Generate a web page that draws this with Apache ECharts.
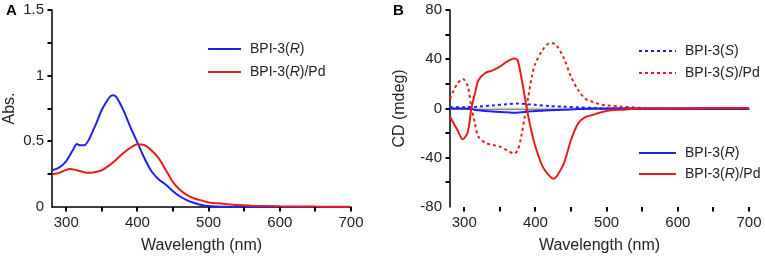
<!DOCTYPE html>
<html>
<head>
<meta charset="utf-8">
<script src="https://cdn.jsdelivr.net/npm/echarts@6/dist/echarts.min.js"></script>
<style>
  html, body { margin: 0; padding: 0; background: #fff; }
  #chart { width: 765px; height: 261px; }
</style>
</head>
<body>
<div id="chart"></div>
<script>
// wavelength (nm) / value pairs
var absR = [[280,0.28],[290,0.30],[300,0.35],[310,0.44],[315,0.48],[320,0.47],[325,0.47],[340,0.61],[350,0.74],[360,0.83],[365,0.85],[370,0.84],[380,0.74],[390,0.61],[400,0.49],[410,0.37],[420,0.27],[430,0.21],[440,0.17],[450,0.12],[460,0.08],[470,0.05],[480,0.03],[490,0.015],[500,0.007],[520,0.002],[560,0],[700,0]];
var absRPd = [[280,0.25],[290,0.26],[305,0.29],[315,0.28],[330,0.26],[340,0.265],[350,0.28],[360,0.315],[370,0.36],[380,0.41],[390,0.45],[400,0.477],[410,0.47],[420,0.43],[430,0.37],[440,0.28],[450,0.19],[460,0.13],[470,0.09],[480,0.065],[490,0.05],[500,0.035],[520,0.025],[540,0.015],[560,0.01],[600,0.005],[650,0.003],[700,0.002]];

var cdS = [[280,1],[300,1],[320,1.5],[340,2.5],[360,3.5],[375,4],[390,3.5],[400,3],[420,2],[440,1.5],[460,1],[480,0.5],[500,0],[700,0]];
var cdSPd = [[280,8],[290,20],[298,24],[305,18],[310,1],[315,-12],[320,-23],[330,-28],[340,-29.6],[350,-31],[360,-34],[370,-36.5],[375,-34],[380,-23],[385,-6.6],[390,9.6],[395,26],[400,36.7],[410,47.5],[420,53],[425,53],[430,51],[440,40.8],[450,25.8],[460,15],[470,8],[480,5.5],[490,3.5],[500,2.5],[520,1.5],[540,0.8],[560,0.3],[600,0],[650,0.5],[700,0.5]];
var cdR = [[280,0],[300,0],[310,-0.5],[320,-1.5],[340,-2.5],[360,-3],[370,-3.5],[380,-3],[390,-2.5],[400,-2],[420,-1.5],[440,-1],[460,-0.5],[480,0],[500,0],[700,0]];
var cdRPd = [[280,-6.7],[290,-17],[298,-25],[305,-19],[310,0],[315,12],[320,23],[330,29],[340,31],[350,34],[360,38],[370,40.7],[375,39],[380,26],[385,9.6],[390,-6.6],[395,-20],[400,-31],[410,-47],[420,-55],[425,-57],[430,-55],[440,-44.6],[450,-25.6],[460,-12],[470,-7],[480,-5.3],[490,-3.5],[500,-2],[520,-1],[550,0],[600,0],[650,0.5],[700,0.5]];

var xTicks = [300, 350, 400, 450, 500, 550, 600, 650, 700];
var xLabels = [300, 400, 500, 600, 700];
var absTicks = [0.25, 0.5, 0.75, 1, 1.25, 1.5];
var absLabels = [0, 0.5, 1, 1.5];
var cdTicks = [-60, -40, -20, 0, 20, 40, 60, 80];
var cdLabels = [-80, -40, 0, 40, 80];

var BLUE = '#1f22e6';
var RED = '#ec1b1b';
var FONT = 'Liberation Sans';

function xAxis(idx) {
  return {
    type: 'value', gridIndex: idx, min: 280, max: 700,
    name: 'Wavelength (nm)', nameLocation: 'middle', nameGap: 31,
    nameTextStyle: { fontFamily: FONT, fontSize: 16, color: '#222' },
    axisLine: { lineStyle: { color: '#000', width: 1.5 } },
    axisTick: { show: false },
    axisLabel: { customValues: xLabels, fontFamily: FONT, fontSize: 15, color: '#222', margin: 8 },
    splitLine: { show: false }
  };
}
function yAxis(idx, min, max, labels, name, gap) {
  return {
    type: 'value', gridIndex: idx, min: min, max: max,
    name: name, nameLocation: 'middle', nameGap: gap,
    nameTextStyle: { fontFamily: FONT, fontSize: 16, color: '#222' },
    axisLine: { show: true, lineStyle: { color: '#000', width: 1.5 } },
    axisTick: { show: false },
    axisLabel: { customValues: labels, fontFamily: FONT, fontSize: 15, color: '#222', margin: 8 },
    splitLine: { show: false }
  };
}

// outward tick marks, placed through the axis scales
function tickSeries(idx, values, dir, yMin) {
  return {
    type: 'custom', xAxisIndex: idx, yAxisIndex: idx, clip: false, silent: true, z: 5,
    data: values.map(function (v) { return dir === 'x' ? [v, yMin] : [280, v]; }),
    renderItem: function (params, api) {
      var p = api.coord([api.value(0), api.value(1)]);
      var shape = dir === 'x'
        ? { x: Math.round(p[0]) - 1, y: p[1], width: 2, height: 4.5 }
        : { x: p[0] - 4.5, y: Math.round(p[1]) - 1, width: 4.5, height: 2 };
      return { type: 'rect', shape: shape, style: { fill: '#000' } };
    }
  };
}

function fmt(name) {
  var m = name.match(/^BPI-3\((R|S)\)\s?(.*)$/);
  if (!m) return name;
  return '{n|BPI-3(}{i|' + m[1] + '}{n|)' + m[2] + '}';
}
var rich = {
  n: { fontFamily: FONT, fontSize: 14, color: '#222' },
  i: { fontFamily: FONT, fontSize: 14, color: '#222', fontStyle: 'italic' }
};
function makeLegend(left, top, w, gap, names) {
  return {
    left: left, top: top, padding: 0, orient: 'vertical', itemWidth: w, itemHeight: 10, itemGap: gap,
    data: names, formatter: fmt, itemStyle: { opacity: 0 },
    textStyle: { rich: rich, padding: [0, 0, 0, 4] }, selectedMode: false
  };
}
function line(name, data, xi, color, dotted) {
  return {
    name: name, type: 'line', xAxisIndex: xi, yAxisIndex: xi, data: data,
    smooth: 0.3, symbol: 'none',
    lineStyle: { color: color, width: 2, type: dotted ? [3, 3] : 'solid' },
    itemStyle: { color: color }
  };
}

var chart = echarts.init(document.getElementById('chart'));
chart.setOption({
  animation: false,
  grid: [
    { left: 52, top: 10, width: 299, height: 197 },
    { left: 450, top: 10, width: 299, height: 197 }
  ],
  graphic: [
    { type: 'text', left: 6, top: 3, style: { text: 'A', fontFamily: FONT, fontSize: 15, fontWeight: 'bold', fill: '#000' } },
    { type: 'text', left: 393, top: 3, style: { text: 'B', fontFamily: FONT, fontSize: 15, fontWeight: 'bold', fill: '#000' } }
  ],
  legend: [
    makeLegend(207, 42, 33, 9, ['BPI-3(R)', 'BPI-3(R)/Pd']),
    makeLegend(638, 44, 37, 8, ['BPI-3(S)', 'BPI-3(S)/Pd']),
    makeLegend(638, 146, 37, 7, ['BPI-3(R) ', 'BPI-3(R) /Pd'])
  ],
  xAxis: [xAxis(0), xAxis(1)],
  yAxis: [
    yAxis(0, 0, 1.5, absLabels, 'Abs.', 34),
    yAxis(1, -80, 80, cdLabels, 'CD (mdeg)', 42)
  ],
  series: [
    tickSeries(0, xTicks, 'x', 0),
    tickSeries(0, absTicks, 'y'),
    tickSeries(1, xTicks, 'x', -80),
    tickSeries(1, cdTicks, 'y'),
    line('BPI-3(R)', absR, 0, BLUE, false),
    line('BPI-3(R)/Pd', absRPd, 0, RED, false),
    { type: 'line', xAxisIndex: 1, yAxisIndex: 1, data: [[280, 0], [520, 0]], symbol: 'none', silent: true,
      lineStyle: { color: '#cfcfcf', width: 2 }, z: 1 },
    line('BPI-3(S)', cdS, 1, BLUE, true),
    line('BPI-3(S)/Pd', cdSPd, 1, RED, true),
    line('BPI-3(R) ', cdR, 1, BLUE, false),
    line('BPI-3(R) /Pd', cdRPd, 1, RED, false)
  ]
});
</script>
</body>
</html>
